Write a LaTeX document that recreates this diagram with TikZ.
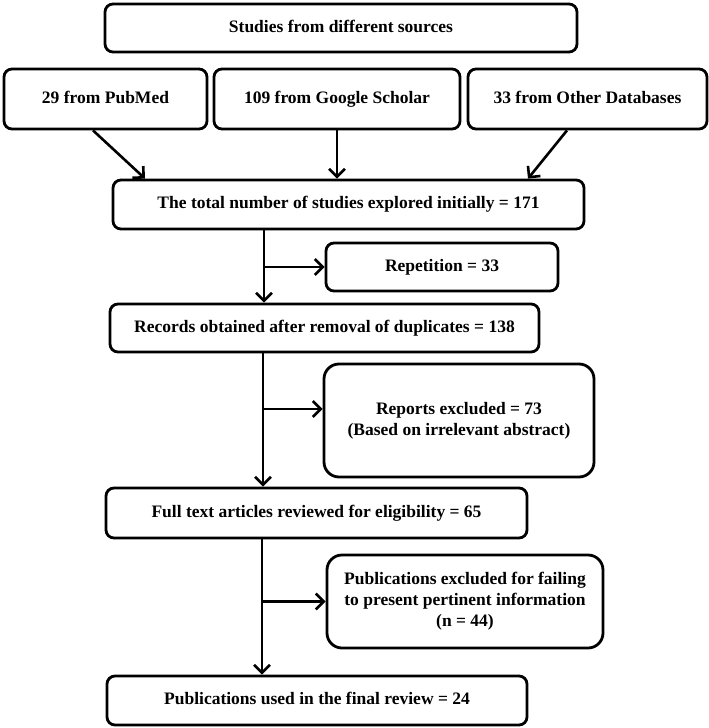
\documentclass[tikz,border=0pt]{standalone}
\usepackage{fontspec}
\setmainfont{Liberation Serif}
\usetikzlibrary{arrows.meta,calc}
\begin{document}
\begin{tikzpicture}[x=1pt,y=-1pt,
  box/.style={draw=black, line width=2.8pt, rounded corners=8pt, inner sep=0pt, align=center,
    font=\fontsize{17.5}{21}\selectfont\bfseries},
  onebox/.style={box, text height=12pt, text depth=4pt},
  bigbox/.style={box, rounded corners=15pt},
  arr/.style={line width=2.6pt, -{Straight Barb[length=8pt,width=16pt,line width=2.6pt]}}]
\useasboundingbox (0,0) rectangle (709,728);
\node[onebox, minimum width=472, minimum height=48] (src) at (341,28) {Studies from different sources};
\node[onebox, minimum width=203, minimum height=60] (pub) at (105.5,99) {29 from PubMed};
\node[onebox, minimum width=246, minimum height=60] (gs) at (337,99) {109 from Google Scholar};
\node[onebox, minimum width=239, minimum height=60] (oth) at (587.5,99) {33 from Other Databases};
\node[onebox, minimum width=471, minimum height=49] (tot) at (348.5,204.5) {The total number of studies explored initially = 171};
\node[onebox, minimum width=232, minimum height=48] (rep) at (442,267) {Repetition = 33};
\node[onebox, minimum width=429, minimum height=48] (rec) at (324.5,328) {Records obtained after removal of duplicates = 138};
\node[bigbox, minimum width=270, minimum height=113] (repex) at (459,420.5) {Reports excluded = 73\\(Based on irrelevant abstract)};
\node[onebox, minimum width=421, minimum height=50] (full) at (316.5,513) {Full text articles reviewed for eligibility = 65};
\node[bigbox, minimum width=276, minimum height=93] (pubex) at (465,601.5) {Publications excluded for failing\\to present pertinent information\\(n = 44)};
\node[onebox, minimum width=420, minimum height=49] (fin) at (317,700.5) {Publications used in the final review = 24};

\draw[arr] ($(pub.south)+(-12.5,0)$) -- ($(tot.north)+(-203.5,0)$);
\draw[arr] (gs.south) -- (gs.south |- tot.north);
\draw[arr] ($(oth.south)+(-20.5,0)$) -- ($(tot.north)+(179.5,0)$);

\coordinate (a1) at ($(tot.south)+(-84.5,0)$);
\draw[arr] (a1) -- (a1 |- rec.north);
\draw[arr] (a1 |- rep.west) -- (rep.west);

\coordinate (a2) at ($(rec.south)+(-61.5,0)$);
\coordinate (b2) at ($(repex.west)+(0,-11.5)$);
\draw[arr] (a2) -- (a2 |- full.north);
\draw[arr] (a2 |- b2) -- (b2);

\coordinate (a3) at ($(full.south)+(-54.5,0)$);
\draw[arr] (a3) -- (a3 |- fin.north);
\draw[arr] (a3 |- pubex.west) -- (pubex.west);
\end{tikzpicture}
\end{document}
